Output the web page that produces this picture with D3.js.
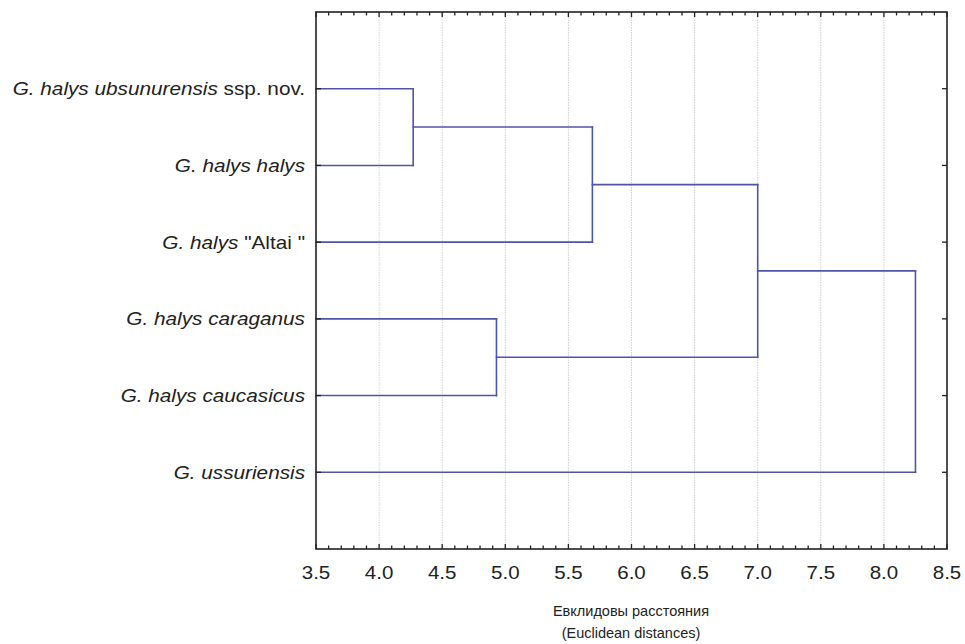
<!DOCTYPE html>
<html>
<head>
<meta charset="utf-8">
<script src="https://cdn.jsdelivr.net/npm/d3@7"></script>
<style>
  html, body { margin: 0; padding: 0; background: #fff; }
  svg { display: block; }
</style>
</head>
<body>
<svg id="chart" width="965" height="644"></svg>
<script>
// Leaf taxa, top to bottom; each label is a list of [text, italic] runs
const leafLabels = [
  [["G. halys ubsunurensis", true], [" ssp. nov.", false]],
  [["G. halys halys", true]],
  [["G. halys", true], [" \"Altai \"", false]],
  [["G. halys caraganus", true]],
  [["G. halys caucasicus", true]],
  [["G. ussuriensis", true]]
];

// Agglomeration steps: two node ids joined at a linkage distance.
// Ids 0-5 are the leaves; each merge creates the next id (6, 7, ...).
const mergeLeft  = [0, 6, 3, 7, 9];
const mergeRight = [1, 2, 4, 8, 5];
const mergeDist  = [4.27, 5.69, 4.93, 7.0, 8.25];

// Axis
const xDomain = [3.5, 8.5];
const xTickValues = [3.5, 4.0, 4.5, 5.0, 5.5, 6.0, 6.5, 7.0, 7.5, 8.0, 8.5];
const xTickLabels = ["3.5", "4.0", "4.5", "5.0", "5.5", "6.0", "6.5", "7.0", "7.5", "8.0", "8.5"];
const xTitleLines = ["Евклидовы расстояния", "(Euclidean distances)"];

const svg = d3.select("#chart");
const box = { left: 316, right: 947, top: 12, bottom: 549 };

const x = d3.scaleLinear().domain(xDomain).range([box.left, box.right]);
const y = d3.scalePoint().domain(d3.range(leafLabels.length)).range([box.top, box.bottom]).padding(1);

const font = "'Liberation Sans', Arial, sans-serif";
const textColor = "#222";
const lineColor = "#4f54ab";
const stretch = 1.14; // labels are set slightly wide

// vertical grid at each labelled tick
svg.append("g")
  .selectAll("line")
  .data(xTickValues.slice(1, -1))
  .join("line")
  .attr("x1", d => x(d)).attr("x2", d => x(d))
  .attr("y1", box.top).attr("y2", box.bottom)
  .attr("stroke", "#d2cfcf")
  .attr("stroke-width", 1)
  .attr("stroke-dasharray", "1.5,1");

// node positions
const nodeX = [], nodeY = [];
leafLabels.forEach((_, i) => { nodeX[i] = xDomain[0]; nodeY[i] = y(i); });

const segs = [];
mergeDist.forEach((h, k) => {
  const id = leafLabels.length + k;
  const a = mergeLeft[k], b = mergeRight[k];
  nodeX[id] = h;
  nodeY[id] = (nodeY[a] + nodeY[b]) / 2;
  // horizontal arms from each child to the merge height
  segs.push([nodeX[a], nodeY[a], h, nodeY[a]]);
  segs.push([nodeX[b], nodeY[b], h, nodeY[b]]);
  // vertical connector
  segs.push([h, nodeY[a], h, nodeY[b]]);
});

svg.append("g")
  .selectAll("line")
  .data(segs)
  .join("line")
  .attr("x1", d => x(d[0])).attr("y1", d => d[1])
  .attr("x2", d => x(d[2])).attr("y2", d => d[3])
  .attr("stroke", lineColor)
  .attr("stroke-width", 1.6)
  .attr("stroke-linecap", "square");

// frame
svg.append("rect")
  .attr("x", box.left).attr("y", box.top)
  .attr("width", box.right - box.left).attr("height", box.bottom - box.top)
  .attr("fill", "none").attr("stroke", "#222").attr("stroke-width", 1.6);

// minor/major ticks on top and bottom, pointing inward
const minorTicks = d3.range(35, 86).map(v => v / 10);
const tickG = svg.append("g").attr("stroke", "#222").attr("stroke-width", 1.3);
minorTicks.forEach(v => {
  const major = Math.abs(v * 2 - Math.round(v * 2)) < 1e-6;
  const len = major ? 5 : 3.5;
  tickG.append("line").attr("x1", x(v)).attr("x2", x(v)).attr("y1", box.bottom).attr("y2", box.bottom - len);
  tickG.append("line").attr("x1", x(v)).attr("x2", x(v)).attr("y1", box.top).attr("y2", box.top + len);
});
// leaf ticks on left and right
leafLabels.forEach((_, i) => {
  tickG.append("line").attr("x1", box.left).attr("x2", box.left + 5).attr("y1", y(i)).attr("y2", y(i));
  tickG.append("line").attr("x1", box.right).attr("x2", box.right - 5).attr("y1", y(i)).attr("y2", y(i));
});

// x tick labels
svg.append("g")
  .selectAll("text")
  .data(xTickValues)
  .join("text")
  .attr("transform", d => `translate(${x(d)},579) scale(${stretch},1)`)
  .attr("text-anchor", "middle")
  .attr("font-family", font)
  .attr("font-size", 18)
  .attr("fill", textColor)
  .text((d, i) => xTickLabels[i]);

// axis title
svg.append("g")
  .selectAll("text")
  .data(xTitleLines)
  .join("text")
  .attr("x", 631)
  .attr("y", (d, i) => 616 + i * 22)
  .attr("text-anchor", "middle")
  .attr("font-family", font)
  .attr("font-size", 14.5)
  .attr("fill", textColor)
  .text(d => d);

// leaf labels
const lab = svg.append("g")
  .selectAll("text")
  .data(leafLabels)
  .join("text")
  .attr("transform", (d, i) => `translate(305,${y(i) + 6.5}) scale(${stretch},1)`)
  .attr("text-anchor", "end")
  .attr("font-family", font)
  .attr("font-size", 18.2)
  .attr("fill", textColor);
lab.selectAll("tspan")
  .data(d => d)
  .join("tspan")
  .attr("font-style", d => d[1] ? "italic" : "normal")
  .text(d => d[0]);
</script>
</body>
</html>
